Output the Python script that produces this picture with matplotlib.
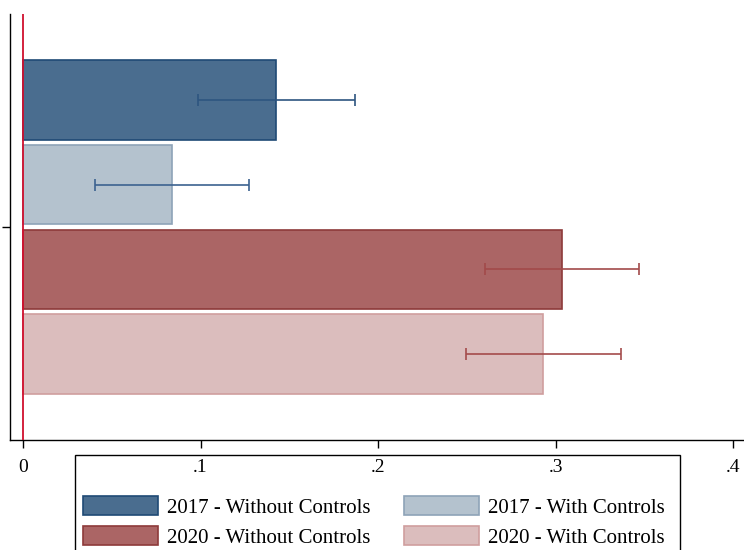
import numpy as np
import matplotlib.pyplot as plt
from matplotlib.patches import Rectangle

plt.rcParams['font.family'] = ['Liberation Serif', 'DejaVu Serif']

# 계수와 신뢰구간
labels = ['2017 - Without Controls', '2017 - With Controls',
          '2020 - Without Controls', '2020 - With Controls']
coef = [0.1425, 0.0839, 0.3037, 0.2930]
ci_low = [0.0986, 0.0406, 0.2603, 0.2496]
ci_high = [0.1870, 0.1273, 0.3470, 0.3369]
xticks = [0, 0.1, 0.2, 0.3, 0.4]
xticklabels = ['0', '.1', '.2', '.3', '.4']

fills = ['#4a6d8f', '#b4c2ce', '#ab6565', '#dbbdbd']
edges = ['#1f4a75', '#8ea3b8', '#8e3a3a', '#cf9e9e']
errc = ['#2e5580', '#3c6290', '#a24a4a', '#a44c4c']

fig = plt.figure(figsize=(7.44, 5.5), dpi=100)
ax = fig.add_axes([10/744, 110/550, 734/744, 426/550])

ypos = np.array([0.375, 0.125, -0.125, -0.375])
bars = []
for i in range(4):
    b = ax.barh(ypos[i], coef[i], height=0.235, color=fills[i], edgecolor=edges[i],
                linewidth=1.2, label=labels[i], zorder=2)
    bars.append(b)
    ax.errorbar(coef[i], ypos[i], xerr=[[coef[i] - ci_low[i]], [ci_high[i] - coef[i]]],
                fmt='none', ecolor=errc[i], elinewidth=1.2, capsize=4, capthick=1.2, zorder=3)

ax.axvline(0, color='#d0102e', lw=1.3, zorder=4)

ax.set_xlim(-13/1775, 0.4 + 11/1775)
ax.set_ylim(-0.627, 0.627)
ax.set_xticks(xticks)
ax.set_xticklabels(xticklabels, fontsize=14)
ax.set_yticks([0])
ax.set_yticklabels([''])
ax.tick_params(axis='x', length=6, width=1, pad=8)
ax.tick_params(axis='y', length=6, width=1)
for s in ['top', 'right']:
    ax.spines[s].set_visible(False)
ax.spines['left'].set_linewidth(1)
ax.spines['bottom'].set_linewidth(1)

# 범례 - 행 순서대로 보이도록 순서 바꿈
order = [0, 2, 1, 3]
leg = fig.legend([bars[k] for k in order], [labels[k] for k in order],
                 loc='upper left', bbox_to_anchor=(83/744, 1 - 496/550), ncol=2,
                 frameon=False, fontsize=15, handlelength=3.6, handleheight=1.05,
                 handletextpad=0.43, columnspacing=1.6, labelspacing=0.4,
                 borderpad=0, borderaxespad=0)
fig.add_artist(Rectangle((75/744, -0.05), 605/744, 1.05 - 455/550,
                         transform=fig.transFigure, fill=False, ec='black', lw=1))

fig.savefig('out.png', dpi=100)
